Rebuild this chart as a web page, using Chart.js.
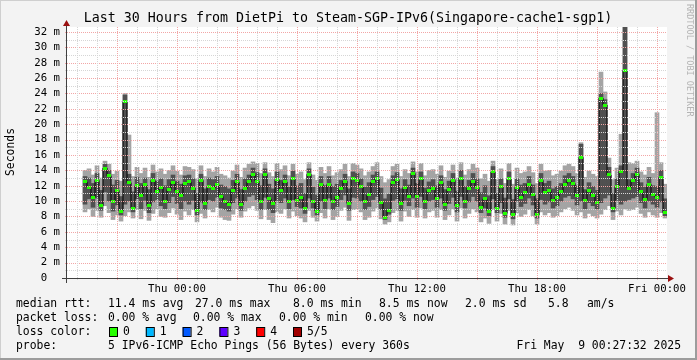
<!DOCTYPE html>
<html>
<head>
<meta charset="utf-8">
<script src="https://cdn.jsdelivr.net/npm/chart.js@4.4.1/dist/chart.umd.min.js"></script>
<style>
    html, body { margin: 0; padding: 0; background: #f3f3f3; }
    #grafico { display: block; }
</style>
</head>
<body>
<canvas id="grafico" width="697" height="360"></canvas>
<script>
// Amostras de 12 em 12 minutos a partir de qua 18:30 (valores em ms)
var passoHoras = 0.2;

var minimo = [null, null, null, null,
    8.6, 9.0, 8.0, 8.8, 7.9, 9.4, 8.5, 7.6, 8.2, 7.4,
    8.1, 8.6, 7.8, 8.9, 7.7, 8.8, 7.5, 8.4, 9.0, 8.0,
    7.9, 8.5, 9.1, 8.3, 7.6, 8.7,
    8.2, 8.9, 7.3, 8.4, 7.8, 8.9, 8.6, 9.2, 7.9, 7.6,
    7.5, 8.3, 9.0, 7.9, 8.7, 9.1, 9.4, 8.8, 7.7, 8.9,
    7.6, 7.2, 8.6, 8.4, 9.0, 7.8, 8.7, 8.1, 7.8, 7.3,
    8.8, 7.9, 7.4, 8.5, 7.8, 9.0, 7.6, 8.0, 8.8, 9.2,
    7.5, 8.9, 9.0, 8.6, 7.6, 7.9, 8.7, 9.1, 7.7, 7.0,
    7.3, 8.5, 8.8, 7.4, 8.7, 8.0, 8.9, 7.9, 9.1, 7.8,
    8.6, 8.8, 7.9, 8.9, 7.6, 8.2, 9.0, 7.4, 9.1, 7.8,
    8.4, 9.0, 8.6, 7.3, 7.8, 7.1, 8.9, 7.4, 8.4, 7.0,
    8.8, 6.9, 8.5, 8.0, 8.3, 8.9, 8.1, 7.0, 8.6, 8.2,
    8.5, 7.9, 8.1, 8.6, 9.0, 9.2, 8.8, 8.2, 8.6, 7.8,
    8.4, 8.1, 7.8, 8.3, 8.9, 9.4, 7.6, 8.7, 8.2, 9.0,
    8.8, 8.9, 9.2, 8.4, 7.9, 8.6, 8.2, 7.9, 8.5, 7.8];

var internoBaixo = [null, null, null, null,
    9.6, 10.3, 9.2, 10.4, 8.8, 11.2, 10.0, 8.7, 9.5, 8.2,
    9.6, 10.0, 8.6, 10.3, 9.0, 10.1, 8.5, 9.9, 10.2, 9.4,
    9.0, 9.8, 10.6, 9.7, 9.0, 10.0,
    9.6, 10.1, 8.2, 9.9, 8.9, 10.2, 10.0, 10.5, 9.1, 8.9,
    8.7, 9.8, 10.4, 8.8, 10.0, 10.6, 10.8, 10.2, 8.9, 10.5,
    8.9, 8.5, 10.1, 9.8, 10.4, 9.0, 10.2, 9.3, 9.1, 8.4,
    10.4, 9.1, 8.2, 10.0, 9.0, 10.4, 8.9, 9.3, 10.2, 10.8,
    8.8, 10.5, 10.4, 10.0, 8.9, 9.3, 10.2, 10.6, 8.9, 7.6,
    8.3, 10.1, 10.3, 8.8, 10.1, 9.4, 10.4, 9.2, 10.6, 9.0,
    10.0, 10.2, 9.2, 10.4, 8.8, 9.7, 10.5, 8.6, 10.6, 9.1,
    9.9, 10.6, 10.0, 8.5, 9.1, 8.1, 10.3, 8.5, 9.8, 7.9,
    10.3, 7.7, 10.0, 9.3, 9.7, 10.4, 9.5, 7.8, 10.2, 9.6,
    9.9, 9.1, 9.4, 10.0, 10.5, 10.7, 10.3, 9.5, 10.0, 9.0,
    9.8, 9.4, 9.0, 9.8, 10.4, 10.8, 8.6, 10.1, 9.6, 10.0,
    10.2, 10.4, 10.6, 9.8, 9.1, 10.0, 9.6, 9.2, 9.9, 8.1];

var mediana = [null, null, null, null,
    12.5, 11.8, 10.5, 12.7, 9.4, 14.3, 13.3, 10.0, 11.4, 8.7,
    22.9, 12.4, 9.1, 12.0, 10.7, 12.1, 9.4, 12.7, 11.2, 11.8,
    10.0, 11.5, 12.4, 11.3, 10.7, 12.3,
    12.5, 11.7, 8.8, 12.7, 9.7, 11.9, 11.7, 12.1, 10.6, 9.9,
    9.6, 11.4, 12.5, 9.5, 11.6, 12.5, 13.4, 12.6, 9.9, 13.5,
    10.3, 9.7, 12.8, 11.4, 12.5, 9.9, 12.9, 10.1, 10.5, 9.1,
    13.5, 9.9, 8.7, 12.2, 10.1, 12.2, 10.0, 10.5, 11.6, 12.6,
    9.7, 12.9, 12.7, 11.9, 10.0, 10.8, 12.5, 12.9, 9.8, 7.9,
    8.8, 12.4, 12.8, 9.7, 11.8, 10.6, 13.6, 10.6, 12.9, 9.9,
    11.4, 11.7, 10.3, 12.4, 9.6, 11.5, 12.7, 9.4, 13.0, 10.0,
    11.7, 12.6, 11.8, 9.2, 10.3, 8.7, 13.8, 9.1, 11.9, 8.4,
    12.9, 8.2, 11.8, 10.5, 11.1, 12.2, 10.8, 8.2, 12.7, 11.1,
    11.4, 10.1, 10.5, 11.2, 12.2, 12.7, 12.3, 10.7, 15.7, 10.1,
    11.4, 10.7, 9.8, 23.4, 22.5, 13.4, 9.1, 11.9, 13.9, 27.0,
    11.7, 12.7, 13.5, 11.2, 10.2, 12.2, 10.8, 10.5, 13.1, 8.5];

var internoAlto = [null, null, null, null,
    13.2, 13.0, 12.3, 13.6, 11.4, 14.8, 14.0, 12.1, 12.7, 10.6,
    23.8, 13.5, 11.2, 13.1, 12.3, 13.0, 11.5, 13.6, 12.6, 12.9,
    12.0, 12.8, 13.4, 12.6, 12.2, 13.3,
    13.4, 12.9, 11.0, 13.5, 11.6, 13.0, 12.8, 13.2, 12.1, 11.9,
    11.6, 12.7, 13.5, 11.5, 12.9, 13.4, 14.3, 13.7, 12.0, 14.2,
    12.2, 11.6, 13.8, 12.7, 13.4, 11.8, 13.9, 12.0, 12.3, 11.0,
    14.2, 11.8, 10.8, 13.2, 12.0, 13.2, 11.9, 12.2, 12.7, 13.5,
    11.6, 13.8, 13.6, 12.9, 11.8, 12.4, 13.4, 13.8, 11.7, 10.3,
    10.9, 13.3, 13.7, 11.6, 12.8, 12.1, 14.3, 12.3, 13.8, 11.7,
    12.5, 12.8, 12.0, 13.3, 11.5, 12.6, 13.6, 11.3, 14.0, 11.9,
    12.7, 13.6, 12.9, 11.1, 12.0, 10.7, 14.5, 11.0, 12.9, 10.4,
    13.8, 10.2, 12.9, 12.1, 12.3, 13.2, 12.1, 10.3, 13.6, 12.3,
    12.6, 11.6, 11.9, 12.3, 13.3, 13.6, 13.2, 12.0, 17.4, 11.5,
    12.4, 11.9, 11.4, 24.0, 23.2, 14.4, 11.0, 12.9, 14.6, 33.0,
    12.8, 13.6, 14.3, 12.4, 11.8, 13.1, 12.0, 11.9, 14.0, 10.3];

var maximo = [null, null, null, null,
    14.0, 14.2, 13.4, 14.6, 13.0, 15.2, 14.8, 13.5, 13.9, 12.6,
    24.0, 18.6, 13.2, 14.4, 13.6, 14.3, 13.1, 14.7, 13.8, 14.2,
    13.5, 14.0, 14.6, 13.9, 13.4, 14.5,
    14.4, 14.1, 12.9, 14.6, 13.2, 14.2, 13.8, 14.4, 13.5, 13.3,
    13.0, 13.9, 14.7, 13.1, 14.3, 14.8, 15.1, 14.9, 13.6, 15.0,
    13.7, 13.2, 14.9, 14.1, 14.6, 13.3, 14.8, 13.5, 13.8, 12.8,
    15.0, 13.4, 12.7, 14.4, 13.6, 14.5, 13.3, 13.7, 14.1, 14.8,
    13.2, 14.9, 14.7, 14.2, 13.3, 13.8, 14.5, 15.0, 13.2, 12.4,
    12.8, 14.5, 14.8, 13.2, 14.1, 13.6, 15.1, 13.8, 14.9, 13.3,
    14.0, 14.1, 13.5, 14.6, 13.1, 13.9, 14.7, 13.0, 15.0, 13.4,
    14.1, 14.8, 14.3, 12.9, 13.5, 12.6, 15.2, 12.8, 14.2, 12.3,
    14.9, 12.2, 14.3, 13.6, 13.8, 14.5, 13.7, 12.3, 14.8, 13.9,
    14.0, 13.3, 13.5, 13.9, 14.6, 14.8, 14.5, 13.6, 17.6, 13.1,
    13.9, 13.5, 13.2, 26.8, 24.2, 15.6, 12.8, 14.3, 18.7, 33.0,
    15.0, 14.9, 15.2, 13.8, 13.4, 14.4, 13.6, 21.5, 15.0, 12.2];

// Eixos
var horasRotulosX = [5.5, 11.5, 17.5, 23.5, 29.5];
var rotulosX = ['Thu 00:00', 'Thu 06:00', 'Thu 12:00', 'Thu 18:00', 'Fri 00:00'];
var valoresEixoY = [0, 2, 4, 6, 8, 10, 12, 14, 16, 18, 20, 22, 24, 26, 28, 30, 32];

// Legenda
var coresPerda = ['#26ff00', '#00b8ff', '#0059ff', '#5e00ff', '#ff0000', '#a10000'];
var rotulosPerda = ['0', '1', '2', '3', '4', '5/5'];

var fonteMono = '"DejaVu Sans Mono", monospace';

document.addEventListener('DOMContentLoaded', function () {
    var horas = mediana.map(function (v, i) { return (i + 0.5) * passoHoras; });

    var fumacaExterna = [];
    var fumacaInterna = [];
    horas.forEach(function (t, i) {
        if (minimo[i] !== null) {
            fumacaExterna.push({ x: t, y: [minimo[i], maximo[i]] });
            fumacaInterna.push({ x: t, y: [internoBaixo[i], internoAlto[i]] });
        }
    });
    var pontosMediana = horas.map(function (t, i) { return { x: t, y: mediana[i] }; });

    // marcador verde da mediana (segmento horizontal curto)
    var marcador = document.createElement('canvas');
    marcador.width = 4;
    marcador.height = 3;
    var ctxMarcador = marcador.getContext('2d');
    ctxMarcador.fillStyle = '#22ff00';
    ctxMarcador.fillRect(0, 0, 4, 3);

    // Grade, eixos e textos no estilo rrdtool
    var moldura = {
        id: 'moldura',
        beforeDraw: function (chart) {
            var ctx = chart.ctx, area = chart.chartArea;
            ctx.save();
            ctx.fillStyle = '#f3f3f3';
            ctx.fillRect(0, 0, chart.width, chart.height);
            ctx.fillStyle = '#ffffff';
            ctx.fillRect(area.left, area.top, area.right - area.left, area.bottom - area.top);
            ctx.restore();
        },
        afterDatasetsDraw: function (chart) {
            var ctx = chart.ctx, area = chart.chartArea;
            var ex = chart.scales.x, ey = chart.scales.y;
            ctx.save();
            ctx.lineWidth = 1;
            ctx.setLineDash([1, 1]);
            for (var v = 1; v <= 32; v++) {
                var py = Math.round(ey.getPixelForValue(v)) + 0.5;
                ctx.strokeStyle = v % 2 === 0 ? '#f2a6a6' : '#d6d6d6';
                ctx.beginPath();
                ctx.moveTo(area.left - 2, py);
                ctx.lineTo(area.right, py);
                ctx.stroke();
            }
            for (var k = 0; k < 30; k++) {
                var px = Math.round(ex.getPixelForValue(0.5 + k)) + 0.5;
                ctx.strokeStyle = (19 + k) % 3 === 0 ? '#f2a6a6' : '#d6d6d6';
                ctx.beginPath();
                ctx.moveTo(px, area.top);
                ctx.lineTo(px, area.bottom + 2);
                ctx.stroke();
            }
            ctx.setLineDash([]);
            ctx.strokeStyle = '#404040';
            var y0 = Math.round(ey.getPixelForValue(0)) + 0.5;
            ctx.beginPath();
            ctx.moveTo(area.left - 5, y0);
            ctx.lineTo(area.right + 1, y0);
            ctx.moveTo(area.left - 0.5, area.bottom + 5);
            ctx.lineTo(area.left - 0.5, area.top - 4);
            ctx.stroke();
            ctx.fillStyle = '#9a1010';
            ctx.beginPath();
            ctx.moveTo(area.right + 1, y0 - 3.5);
            ctx.lineTo(area.right + 7, y0);
            ctx.lineTo(area.right + 1, y0 + 3.5);
            ctx.fill();
            ctx.beginPath();
            ctx.moveTo(area.left - 4, area.top - 1);
            ctx.lineTo(area.left - 0.5, area.top - 7);
            ctx.lineTo(area.left + 3, area.top - 1);
            ctx.fill();
            ctx.restore();
        },
        afterDraw: function (chart) {
            var ctx = chart.ctx;
            ctx.save();
            ctx.fillStyle = '#000';
            ctx.textBaseline = 'middle';

            ctx.font = '13.3px ' + fonteMono;
            ctx.textAlign = 'center';
            ctx.fillText('Last 30 Hours from DietPi to Steam-SGP-IPv6(Singapore-cache1-sgp1)', 348, 19);

            ctx.font = '11.4px ' + fonteMono;
            ctx.save();
            ctx.translate(11, 152);
            ctx.rotate(-Math.PI / 2);
            ctx.fillText('Seconds', 0, 0);
            ctx.restore();

            ctx.save();
            ctx.fillStyle = '#b4b4b4';
            ctx.font = '8.5px ' + fonteMono;
            ctx.textAlign = 'left';
            ctx.translate(689, 4);
            ctx.rotate(Math.PI / 2);
            ctx.fillText('RRDTOOL / TOBI OETIKER', 0, 0);
            ctx.restore();

            ctx.textAlign = 'left';
            var linha1 = [[16, 'median rtt:'], [108, '11.4 ms avg'], [195, '27.0 ms max'], [293, '8.0 ms min'],
                [379, '8.5 ms now'], [465, '2.0 ms sd'], [548, '5.8'], [587, 'am/s']];
            var linha2 = [[16, 'packet loss:'], [108, '0.00 % avg'], [193, '0.00 % max'], [279, '0.00 % min'], [365, '0.00 % now']];
            linha1.forEach(function (p) { ctx.fillText(p[1], p[0], 304); });
            linha2.forEach(function (p) { ctx.fillText(p[1], p[0], 318); });
            ctx.fillText('loss color:', 16, 332);
            coresPerda.forEach(function (cor, i) {
                var bx = 109 + i * 36.8;
                ctx.fillStyle = cor;
                ctx.fillRect(bx, 327, 8, 9);
                ctx.strokeStyle = '#000';
                ctx.lineWidth = 1;
                ctx.strokeRect(bx + 0.5, 327.5, 8, 9);
                ctx.fillStyle = '#000';
                ctx.fillText(rotulosPerda[i], bx + 14, 332);
            });
            ctx.fillText('probe:', 16, 346);
            ctx.fillText('5 IPv6-ICMP Echo Pings (56 Bytes) every 360s', 108, 346);
            ctx.textAlign = 'right';
            ctx.fillText('Fri May  9 00:27:32 2025', 681, 346);

            // borda sombreada
            ctx.fillStyle = '#cfcfcf';
            ctx.fillRect(0, 0, chart.width, 1);
            ctx.fillRect(0, 0, 1, chart.height);
            ctx.fillStyle = '#9c9c9c';
            ctx.fillRect(chart.width - 2, 0, 2, chart.height);
            ctx.fillRect(0, chart.height - 2, chart.width, 2);
            ctx.restore();
        }
    };

    var ctxGrafico = document.getElementById('grafico').getContext('2d');
    new Chart(ctxGrafico, {
        type: 'bar',
        data: {
            datasets: [{
                label: 'median',
                type: 'line',
                data: pontosMediana,
                showLine: false,
                pointStyle: marcador,
                pointRadius: 2,
                order: 0
            }, {
                label: 'median step',
                type: 'line',
                data: pontosMediana,
                stepped: 'middle',
                borderColor: '#000000',
                borderWidth: 1,
                pointRadius: 0,
                spanGaps: false,
                order: 1
            }, {
                label: 'inner smoke',
                data: fumacaInterna,
                backgroundColor: '#505050',
                borderWidth: 0,
                grouped: false,
                barPercentage: 1,
                categoryPercentage: 1,
                order: 2
            }, {
                label: 'outer smoke',
                data: fumacaExterna,
                backgroundColor: '#a4a4a4',
                borderWidth: 0,
                grouped: false,
                barPercentage: 1,
                categoryPercentage: 1,
                order: 3
            }]
        },
        options: {
            responsive: false,
            animation: false,
            events: [],
            layout: { padding: { left: 0, top: 27, right: 30, bottom: 0 } },
            plugins: { legend: { display: false }, title: { display: false }, tooltip: { enabled: false } },
            scales: {
                x: {
                    type: 'linear',
                    min: 0,
                    max: 30,
                    offset: false,
                    grid: { display: false, drawTicks: false },
                    border: { display: false },
                    afterBuildTicks: function (escala) {
                        var lista = [];
                        for (var k = 0; k < 30; k++) lista.push({ value: 0.5 + k });
                        escala.ticks = lista;
                    },
                    afterFit: function (escala) { escala.height = 82; },
                    ticks: {
                        autoSkip: false,
                        maxRotation: 0,
                        padding: 5,
                        color: '#000',
                        font: { family: fonteMono, size: 10.7 },
                        callback: function (valor) {
                            var i = horasRotulosX.indexOf(valor);
                            return i >= 0 ? rotulosX[i] : '';
                        }
                    }
                },
                y: {
                    min: 0,
                    max: 32.65,
                    grid: { display: false, drawTicks: false },
                    border: { display: false },
                    afterBuildTicks: function (escala) {
                        escala.ticks = valoresEixoY.map(function (v) { return { value: v }; });
                    },
                    afterFit: function (escala) { escala.width = 67; },
                    ticks: {
                        autoSkip: false,
                        padding: 7,
                        color: '#000',
                        font: { family: fonteMono, size: 10.7 },
                        callback: function (valor) {
                            return valor === 0 ? '0  ' : valor + ' m';
                        }
                    }
                }
            }
        },
        plugins: [moldura]
    });
});
</script>
</body>
</html>
